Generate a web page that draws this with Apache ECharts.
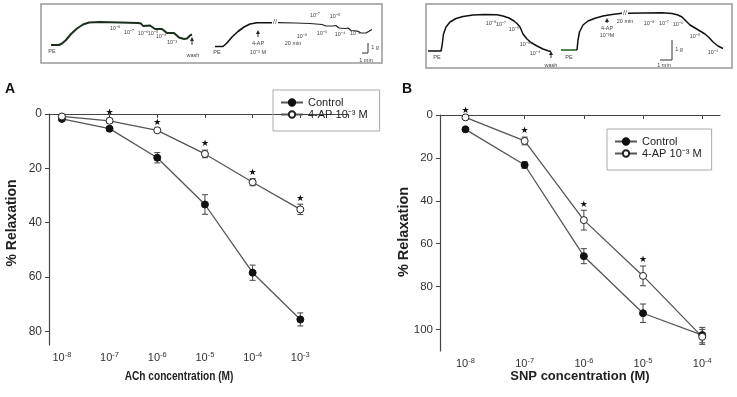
<!DOCTYPE html>
<html>
<head>
<meta charset="utf-8">
<script src="https://cdn.jsdelivr.net/npm/echarts@6/dist/echarts.min.js"></script>
<style>
  html, body { margin: 0; padding: 0; background: #fff; }
  #chart { width: 737px; height: 397px; }
</style>
</head>
<body>
<div id="chart"></div>
<script>
// log10 concentration
const achDoses = [-8, -7, -6, -5, -4, -3];
const achControl = [1.8, 5.4, 16.1, 33.3, 58.4, 75.6];
const achControlErr = [0.5, 0.7, 1.9, 3.6, 2.8, 2.4];
const achAP = [0.9, 2.5, 6.0, 14.7, 25.1, 35.1];
const achAPErr = [0.4, 0.7, 0.7, 1.4, 1.3, 1.9];
const achStars = [0, 1, 1, 1, 1, 1];

const snpDoses = [-8, -7, -6, -5, -4];
const snpControl = [6.7, 23.3, 65.8, 92.4, 102.6];
const snpControlErr = [0.5, 1.5, 3.5, 4.3, 3.6];
const snpAP = [1.1, 12.1, 49.0, 75.0, 103.4];
const snpAPErr = [0.5, 1.8, 4.6, 4.6, 3.5];
const snpStars = [1, 1, 1, 1, 0];

const yTicksA = [0, 20, 40, 60, 80];
const yTicksB = [0, 20, 40, 60, 80, 100];

// isometric tension recordings (time, tension)
const traceAch1 = [[51,45],[59,45],[62,43.5],[66,40],[71,34],[77,28.5],[83,24.5],[89,22.5],[100,22],[120,22.5],[138,23],[141,23.5],[143,26],[150,25.5],[152,23.5],[155,29],[162,29],[164,27],[167,33],[174,33],[176,31.5],[179,37.5],[184,39],[187,38.5],[190,35.5],[192,34.5]];
const traceAch2a = [[215,46.5],[223,46.5],[227,43],[232,37],[238,31.5],[244,27],[250,24],[257,22.7],[272,22.7]];
const traceAch2b = [[278,22.7],[295,23],[310,23.5],[322,24.5],[326,26],[333,26],[336,25.5],[339,28],[345,28.5],[348,28],[351,30.5],[357,31],[359,30.5],[361,33],[366,33],[372,29.5]];
const traceSnp1 = [[428,51],[441,51],[442,46],[443.5,34],[446,27],[450,22],[456,18.5],[463,16.5],[473,15],[485,14.5],[497,14.7],[503,16],[509,18],[514,21],[517,23.5],[520,27],[523,34],[527,39],[531,42.5],[537,46],[543,49],[548,50.8],[551,51.5]];
const traceSnp2base = [[561,50],[577,50]];
const traceSnp2a = [[577,50],[578,40],[579.5,32],[583,25],[588,21],[595,18.3],[603,16],[612,14.5],[622,13.3]];
const traceSnp2b = [[628,13.3],[645,13],[662,12.7],[672,13.5],[678,15],[682,17],[686,21],[690,25],[695,28],[700,31],[705,34],[709,37.5],[713,42],[718,46],[723,48.5]];

const FONT = "Liberation Sans, Arial, sans-serif";
const SUP = { "-": "⁻", "0": "⁰", "1": "¹", "2": "²", "3": "³", "4": "⁴", "5": "⁵", "6": "⁶", "7": "⁷", "8": "⁸", "9": "⁹" };
const sup = (s) => String(s).split("").map((c) => SUP[c] || c).join("");
const AP_NAME = "4-AP 10" + sup(-3) + " M";

const zip = (xs, ys, es) => xs.map((x, i) => (es ? [x, ys[i], es[i]] : [x, ys[i]]));

const chart = echarts.init(document.getElementById("chart"));

const errorBars = (xi, data) => ({
  type: "custom",
  xAxisIndex: xi,
  yAxisIndex: xi,
  z: 1,
  silent: true,
  data: data,
  encode: { x: 0, y: 1 },
  renderItem: (params, api) => {
    const x = api.value(0), y = api.value(1), e = api.value(2);
    const a = api.coord([x, y - e]);
    const b = api.coord([x, y + e]);
    const st = { stroke: "#444", lineWidth: 1 };
    return {
      type: "group",
      children: [
        { type: "line", shape: { x1: a[0], y1: a[1], x2: b[0], y2: b[1] }, style: st },
        { type: "line", shape: { x1: a[0] - 3, y1: a[1], x2: a[0] + 3, y2: a[1] }, style: st },
        { type: "line", shape: { x1: b[0] - 3, y1: b[1], x2: b[0] + 3, y2: b[1] }, style: st },
      ],
    };
  },
});

const stars = (xi, xs, ys, es, flags) => ({
  type: "custom",
  xAxisIndex: xi,
  yAxisIndex: xi,
  z: 3,
  silent: true,
  data: xs.map((x, i) => [x, ys[i] - es[i]]).filter((d, i) => flags[i]),
  encode: { x: 0, y: 1 },
  renderItem: (params, api) => {
    const p = api.coord([api.value(0), api.value(1)]);
    return {
      type: "text",
      style: { text: "★", x: p[0], y: p[1] - 6, align: "center", verticalAlign: "middle", font: "9px DejaVu Sans", fill: "#111" },
    };
  },
});

const curve = (xi, name, data, open) => ({
  name: name,
  type: "line",
  xAxisIndex: xi,
  yAxisIndex: xi,
  z: 2,
  data: data,
  symbol: "circle",
  symbolSize: 7,
  itemStyle: open
    ? { color: "#fff", borderColor: "#222", borderWidth: 1 }
    : { color: "#111", borderColor: "#111", borderWidth: 1 },
  lineStyle: { color: "#555", width: 1.3 },
});

const trace = (data, color, width) => ({
  type: "line",
  xAxisIndex: 0,
  yAxisIndex: 0,
  data: data,
  showSymbol: false,
  silent: true,
  lineStyle: { color: color, width: width },
});

const concAxis = (gi, min, max, ticks, extraTick) => ({
  gridIndex: gi,
  type: "value",
  min: min,
  max: max,
  splitLine: { show: false },
  axisLine: { lineStyle: { color: "#444", width: 1.2 } },
  axisTick: { inside: false, length: 4, lineStyle: { color: "#444" }, customValues: extraTick ? ticks.concat([max]) : ticks },
  axisLabel: {
    customValues: ticks,
    formatter: (v) => "10{s|" + Math.round(v) + "}",
    color: "#333",
    fontSize: 11,
    fontFamily: FONT,
    margin: 6,
    lineHeight: 14,
    rich: {
      s: { fontSize: 7.5, fontFamily: FONT, color: "#333", verticalAlign: "top", lineHeight: 14 },
    },
  },
});

const relaxAxis = (gi, max, ticks, fs) => ({
  gridIndex: gi,
  type: "value",
  inverse: true,
  min: 0,
  max: max,
  splitLine: { show: false },
  axisLine: { show: true, lineStyle: { color: "#444", width: 1.2 } },
  axisTick: { show: true, inside: false, length: 4, lineStyle: { color: "#444" }, customValues: ticks },
  axisLabel: { customValues: ticks, color: "#333", fontSize: fs, fontFamily: FONT, margin: 7 },
});

const txt = (text, x, y, size, extra) =>
  Object.assign(
    { type: "text", x: x, y: y, silent: true, style: { text: text, align: "center", verticalAlign: "middle", font: size + "px " + FONT, fill: "#444" } },
    extra || {}
  );
const seg = (x1, y1, x2, y2) => ({ type: "line", silent: true, shape: { x1, y1, x2, y2 }, style: { stroke: "#333", lineWidth: 1 } });
const arrow = (x, y1, y2) => ({
  type: "group",
  silent: true,
  children: [
    seg(x, y1, x, y2),
    { type: "polygon", shape: { points: [[x, y2 - 2], [x - 2, y2 + 2], [x + 2, y2 + 2]] }, style: { fill: "#222" } },
  ],
});

const small = 5.5;
const graphic = [
  { type: "rect", silent: true, shape: { x: 41, y: 4, width: 341, height: 59 }, style: { fill: "none", stroke: "#999", lineWidth: 1.5 } },
  { type: "rect", silent: true, shape: { x: 426, y: 4, width: 306, height: 64 }, style: { fill: "none", stroke: "#999", lineWidth: 1.5 } },
  txt("PE", 52, 51, small), txt("PE", 217, 52, small),
  arrow(192, 45, 39), txt("wash", 193, 55, small),
  txt("10" + sup(-8), 115, 28, small), txt("10" + sup(-7), 129, 32, small), txt("10" + sup(-6), 143, 33, small),
  txt("10" + sup(-5), 153, 33.5, small), txt("10" + sup(-4), 161, 36, small), txt("10" + sup(-3), 172, 42.5, small),
  arrow(258, 37, 32), txt("4-AP", 258, 43, small), txt("10" + sup(-3) + " M", 258, 52, small), txt("20 min", 293, 43, small),
  txt("//", 275, 22.5, 7),
  txt("10" + sup(-8), 302, 36, small), txt("10" + sup(-7), 315, 15, small), txt("10" + sup(-6), 322, 33, small),
  txt("10" + sup(-5), 335, 16, small), txt("10" + sup(-4), 340, 34.5, small), txt("10" + sup(-3), 355, 33.5, small),
  seg(368, 43, 368, 53), seg(362, 53, 368, 53), txt("1 g", 375, 47, small), txt("1 min", 366, 60, small),

  txt("PE", 437, 57, small), txt("PE", 569, 57, small),
  arrow(551, 58, 53), txt("wash", 551, 65, small),
  txt("10" + sup(-8), 491, 23, small), txt("10" + sup(-7), 501, 24, small), txt("10" + sup(-6), 514, 29, small),
  txt("10" + sup(-5), 525, 44, small), txt("10" + sup(-4), 535, 53, small),
  arrow(607, 23, 20), txt("4-AP", 607, 28, small), txt("10" + sup(-3) + "M", 607, 35, small),
  txt("//", 625, 13, 7), txt("20 min", 625, 21, small),
  txt("10" + sup(-8), 649, 23, small), txt("10" + sup(-7), 664, 23, small), txt("10" + sup(-6), 678, 24, small),
  txt("10" + sup(-5), 695, 36, small), txt("10" + sup(-4), 713, 52, small),
  seg(672, 40, 672, 60), seg(660, 60, 672, 60), txt("1 g", 679, 49, small), txt("1 min", 664, 65, small),

  txt("A", 10, 89.5, 14, { style: { text: "A", align: "center", verticalAlign: "middle", font: "bold 14px " + FONT, fill: "#111" } }),
  txt("B", 407, 89.5, 14, { style: { text: "B", align: "center", verticalAlign: "middle", font: "bold 14px " + FONT, fill: "#111" } }),
  { type: "text", x: 12, y: 223, rotation: Math.PI / 2, silent: true,
    style: { text: "% Relaxation", align: "center", verticalAlign: "middle", font: "bold 14px " + FONT, fill: "#222" } },
  { type: "text", x: 179, y: 376, scaleX: 0.78, silent: true,
    style: { text: "ACh concentration (M)", align: "center", verticalAlign: "middle", font: "bold 13px " + FONT, fill: "#222" } },
  { type: "text", x: 404, y: 232, rotation: Math.PI / 2, silent: true,
    style: { text: "% Relaxation", align: "center", verticalAlign: "middle", font: "bold 14.5px " + FONT, fill: "#222" } },
  { type: "text", x: 580, y: 376, silent: true,
    style: { text: "SNP concentration (M)", align: "center", verticalAlign: "middle", font: "bold 13px " + FONT, fill: "#222" } },
];

const legendBase = {
  orient: "vertical",
  data: ["Control", AP_NAME],
  borderColor: "#aaa",
  borderWidth: 1,
  itemWidth: 22,
  itemHeight: 8,
  itemGap: 1,
  textStyle: { fontSize: 11, color: "#222", fontFamily: FONT },
};

const option = {
  animation: false,
  backgroundColor: "#fff",
  legend: [
    Object.assign({}, legendBase, { left: 273, top: 90, padding: [7, 12, 11, 7] }),
    Object.assign({}, legendBase, { left: 607, top: 129, padding: [7, 10, 11, 7] }),
  ],
  grid: [
    { left: 0, top: 0, width: 737, height: 72 },
    { left: 49, top: 114, width: 299, height: 231 },
    { left: 440, top: 115, width: 280, height: 236 },
  ],
  xAxis: [
    { gridIndex: 0, type: "value", min: 0, max: 737, show: false },
    concAxis(1, -8.27, -2, achDoses, true),
    concAxis(2, -8.43, -3.7, snpDoses, false),
  ],
  yAxis: [
    { gridIndex: 0, type: "value", min: 0, max: 72, inverse: true, show: false },
    relaxAxis(1, 85, yTicksA, 12),
    relaxAxis(2, 110, yTicksB, 11.5),
  ],
  graphic: graphic,
  series: [
    trace(traceAch1, "#1c2e1c", 2),
    trace(traceAch2a, "#111", 1.6),
    trace(traceAch2b, "#222", 1.2),
    trace(traceSnp1, "#111", 1.5),
    trace(traceSnp2base, "#3d7a3d", 1.8),
    trace(traceSnp2a, "#111", 1.5),
    trace(traceSnp2b, "#111", 1.5),

    errorBars(1, zip(achDoses, achControl, achControlErr)),
    errorBars(1, zip(achDoses, achAP, achAPErr)),
    curve(1, "Control", zip(achDoses, achControl)),
    curve(1, AP_NAME, zip(achDoses, achAP), true),
    stars(1, achDoses, achAP, achAPErr, achStars),

    errorBars(2, zip(snpDoses, snpControl, snpControlErr)),
    errorBars(2, zip(snpDoses, snpAP, snpAPErr)),
    curve(2, "Control", zip(snpDoses, snpControl)),
    curve(2, AP_NAME, zip(snpDoses, snpAP), true),
    stars(2, snpDoses, snpAP, snpAPErr, snpStars),
  ],
};

chart.setOption(option);

window.addEventListener("resize", () => {
  chart.resize();
});
</script>
</body>
</html>
